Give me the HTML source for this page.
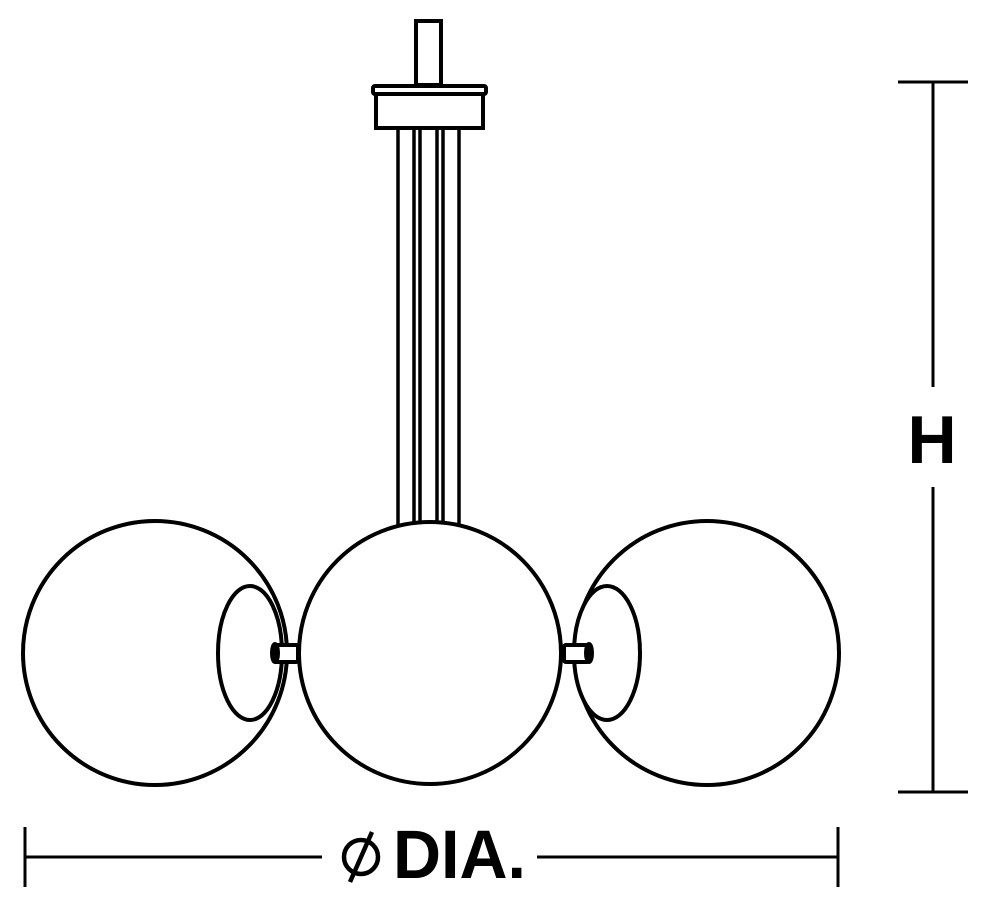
<!DOCTYPE html>
<html><head><style>html,body{margin:0;padding:0;background:#fff;}svg{display:block}</style></head>
<body>
<svg width="990" height="906" viewBox="0 0 990 906" xmlns="http://www.w3.org/2000/svg">
<g fill="none" stroke="#000" stroke-width="4">
  <!-- stem -->
  <rect x="416" y="21" width="25" height="64" fill="#fff"/>
  <!-- canopy -->
  <rect x="373" y="86" width="113" height="8" rx="2" fill="#fff"/>
  <rect x="376" y="94" width="107" height="34" fill="#fff"/>
  <!-- rods -->
  <g stroke-width="3.5">
    <line x1="398" y1="128" x2="398" y2="528"/>
    <line x1="414" y1="128" x2="414" y2="528"/>
    <line x1="420" y1="128" x2="420" y2="528"/>
    <line x1="437" y1="128" x2="437" y2="528"/>
    <line x1="443" y1="128" x2="443" y2="528"/>
    <line x1="459" y1="128" x2="459" y2="528"/>
  </g>
  <!-- left globe -->
  <circle cx="155" cy="653" r="132" fill="#fff"/>
  <ellipse cx="250" cy="653" rx="32" ry="67" fill="#fff"/>
  <!-- right globe -->
  <circle cx="707" cy="653" r="132" fill="#fff"/>
  <ellipse cx="607" cy="653" rx="33" ry="67" fill="#fff"/>
  <!-- pins -->
  <rect x="274" y="645" width="24" height="17" rx="2" fill="#fff"/>
  <rect x="564" y="645" width="25" height="17" rx="2" fill="#fff"/>
  <ellipse cx="275" cy="653" rx="3" ry="9" fill="#000"/>
  <ellipse cx="589" cy="653" rx="3" ry="9" fill="#000"/>
  <!-- middle globe -->
  <circle cx="430" cy="653" r="131" fill="#fff"/>
  <!-- H dimension -->
  <g stroke-width="3">
    <line x1="898" y1="82" x2="968" y2="82"/>
    <line x1="898" y1="792" x2="968" y2="792"/>
    <line x1="933" y1="82" x2="933" y2="387"/>
    <line x1="933" y1="487" x2="933" y2="792"/>
    <!-- DIA dimension -->
    <line x1="25" y1="827" x2="25" y2="887"/>
    <line x1="838" y1="827" x2="838" y2="887"/>
    <line x1="25" y1="857" x2="322" y2="857"/>
    <line x1="537" y1="857" x2="838" y2="857"/>
  </g>
</g>
<text x="932" y="463" text-anchor="middle" font-family="Liberation Sans, sans-serif" font-weight="bold" font-size="68">H</text>
<!-- diameter symbol -->
<g fill="none" stroke="#000" stroke-width="4.5">
  <circle cx="361" cy="857" r="17"/>
  <line x1="372" y1="832" x2="350" y2="882"/>
</g>
<text x="393" y="878" font-family="Liberation Sans, sans-serif" font-weight="bold" font-size="69" textLength="133" lengthAdjust="spacingAndGlyphs">DIA.</text>
</svg>
</body></html>
